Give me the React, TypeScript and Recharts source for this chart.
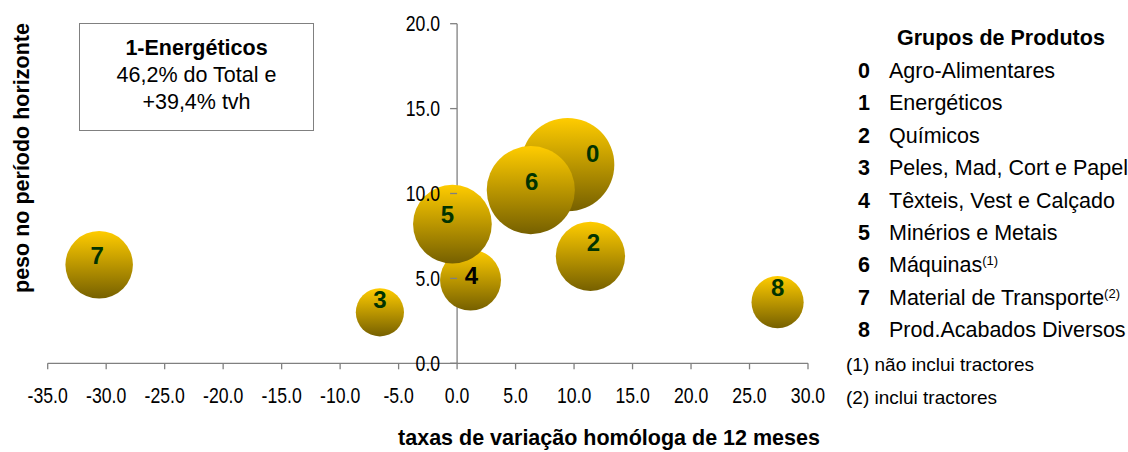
import { ScatterChart, Scatter, XAxis, YAxis, ZAxis, ReferenceLine, ReferenceDot } from 'recharts'

// grupos de produtos (o grupo 1 fica fora da escala e vai na caixa)
const grupos = ['0', '2', '3', '4', '5', '6', '7', '8']
const taxaVariacao = [9.45, 11.4, -6.6, 1.15, -0.4, 6.3, -30.6, 27.4]
const pesoHorizonte = [11.7, 6.3, 3.0, 4.9, 8.2, 10.2, 5.8, 3.6]
const dimensao = [21.8, 12.0, 5.8, 9.3, 15.5, 19.4, 11.4, 6.8]

const xTicks = [-35, -30, -25, -20, -15, -10, -5, 0, 5, 10, 15, 20, 25, 30]
const yTicks = [0, 5, 10, 15, 20]

const legendNums = ['0', '1', '2', '3', '4', '5', '6', '7', '8']
const legendNames = [
  'Agro-Alimentares',
  'Energéticos',
  'Químicos',
  'Peles, Mad, Cort e Papel',
  'Têxteis, Vest e Calçado',
  'Minérios e Metais',
  'Máquinas',
  'Material de Transporte',
  'Prod.Acabados Diversos',
]
const legendSup = ['', '', '', '', '', '', '(1)', '(2)', '']
const notas = ['(1) não inclui tractores', '(2) inclui tractores']
const caixa = ['1-Energéticos', '46,2% do Total e', '+39,4% tvh']

const data = grupos.map((g, i) => ({ g, x: taxaVariacao[i], y: pesoHorizonte[i], z: dimensao[i] }))

const FONT = '"Liberation Sans", Arial, sans-serif'
const AXIS = '#808080'
const NARROW_SCALE = 0.82 // fake Arial Narrow for the tick numbers

// small manual nudges for the bubble numbers
const NUDGE: Record<string, [number, number]> = {
  '0': [25, -11], '2': [3, -14], '3': [0, -13], '4': [1, -5],
  '5': [-5, -10], '6': [1, -9], '7': [-2, -9], '8': [0, -15],
}

const Bubble = (props: any) => {
  const { cx, cy, width, size, payload } = props
  const r = width ? width / 2 : Math.sqrt(size / Math.PI)
  const [dx, dy] = NUDGE[payload.g] ?? [0, -10]
  return (
    <g>
      <circle cx={cx} cy={cy} r={r} fill="url(#ouro)" />
      <text
        x={cx + dx}
        y={cy + dy}
        textAnchor="middle"
        dominantBaseline="central"
        fontFamily={FONT}
        fontWeight="bold"
        fontSize={24}
        fill={payload.g === '4' ? '#000000' : '#003300'}
      >
        {payload.g}
      </text>
    </g>
  )
}

const XTick = (props: any) => {
  const { x, y, payload } = props
  return (
    <text
      transform={`translate(${x},${y}) scale(${NARROW_SCALE},1)`}
      textAnchor="middle"
      dy="0.71em"
      fontFamily={FONT}
      fontSize={21.5}
      fill="#000"
    >
      {payload.value.toFixed(1)}
    </text>
  )
}

const YTick = (props: any) => {
  const { cx, cy, value } = props
  return (
    <g>
      <line x1={cx - 7} x2={cx} y1={cy} y2={cy} stroke={AXIS} strokeWidth={1.3} />
      <text
        transform={`translate(${cx - 17},${cy}) scale(${NARROW_SCALE},1)`}
        textAnchor="end"
        dominantBaseline="central"
        fontFamily={FONT}
        fontSize={21.5}
        fill="#000"
      >
        {value.toFixed(1)}
      </text>
    </g>
  )
}

export default function App() {
  return (
    <div style={{ position: 'absolute', left: 0, top: 0, width: 1128, height: 452, background: '#fff', fontFamily: FONT }}>
      <ScatterChart width={1128} height={452} margin={{ top: 23.7, right: 320, bottom: 0, left: 47.7 }}>
        <defs>
          <linearGradient id="ouro" x1="0" y1="0" x2="0" y2="1">
            <stop offset="0%" stopColor="#FFCC00" />
            <stop offset="100%" stopColor="#766000" />
          </linearGradient>
        </defs>
        <XAxis
          type="number"
          dataKey="x"
          domain={[-35, 30]}
          ticks={xTicks}
          interval={0}
          height={88.7}
          tickSize={6}
          tickMargin={18.4}
          axisLine={{ stroke: AXIS, strokeWidth: 1.3 }}
          tickLine={{ stroke: AXIS, strokeWidth: 1.3 }}
          tick={<XTick />}
        />
        <YAxis type="number" dataKey="y" domain={[0, 20]} ticks={yTicks} hide />
        <ZAxis type="number" dataKey="z" domain={[0, 25]} range={[0, 7854]} />
        <ReferenceLine x={0} stroke={AXIS} strokeWidth={1.3} />
        <Scatter data={data} shape={<Bubble />} isAnimationActive={false} />
        {yTicks.map((v) => (
          <ReferenceDot key={v} x={0} y={v} ifOverflow="visible" shape={(p: any) => <YTick {...p} value={v} />} />
        ))}
      </ScatterChart>

      {/* caixa do grupo 1 */}
      <div
        style={{
          position: 'absolute', left: 79, top: 22.7, width: 235, height: 108, boxSizing: 'border-box',
          border: `1.5px solid ${AXIS}`, textAlign: 'center', fontSize: 21.5, lineHeight: '27px', paddingTop: 11,
        }}
      >
        {caixa.map((t, i) => (
          <div key={t} style={{ fontWeight: i === 0 ? 'bold' : 'normal' }}>{t}</div>
        ))}
      </div>

      {/* titulo eixo y */}
      <div
        style={{
          position: 'absolute', left: 22 - 160, top: 158 - 13, width: 320, height: 26, lineHeight: '26px',
          textAlign: 'center', fontWeight: 'bold', fontSize: 21.5, transform: 'rotate(-90deg)',
        }}
      >
        peso no período horizonte
      </div>

      {/* titulo eixo x */}
      <div
        style={{
          position: 'absolute', left: 609 - 260, top: 425, width: 520, lineHeight: '26px',
          textAlign: 'center', fontWeight: 'bold', fontSize: 21.5,
        }}
      >
        taxas de variação homóloga de 12 meses
      </div>

      {/* legenda */}
      <div style={{ position: 'absolute', left: 897, top: 25, lineHeight: '26px', fontWeight: 'bold', fontSize: 21.5, whiteSpace: 'nowrap' }}>
        Grupos de Produtos
      </div>
      {legendNames.map((name, i) => (
        <div key={name} style={{ position: 'absolute', left: 846, top: 58 + i * 32.4, lineHeight: '26px', fontSize: 21.5, whiteSpace: 'nowrap' }}>
          <span style={{ display: 'inline-block', width: 24, textAlign: 'right', fontWeight: 'bold' }}>{legendNums[i]}</span>
          <span style={{ marginLeft: 19 }}>{name}</span>
          {legendSup[i] && <sup style={{ fontSize: 13, verticalAlign: 'top', lineHeight: '18px' }}>{legendSup[i]}</sup>}
        </div>
      ))}
      {notas.map((n, i) => (
        <div key={n} style={{ position: 'absolute', left: 846, top: 353 + i * 33, lineHeight: '24px', fontSize: 19, whiteSpace: 'nowrap' }}>
          {n}
        </div>
      ))}
    </div>
  )
}
